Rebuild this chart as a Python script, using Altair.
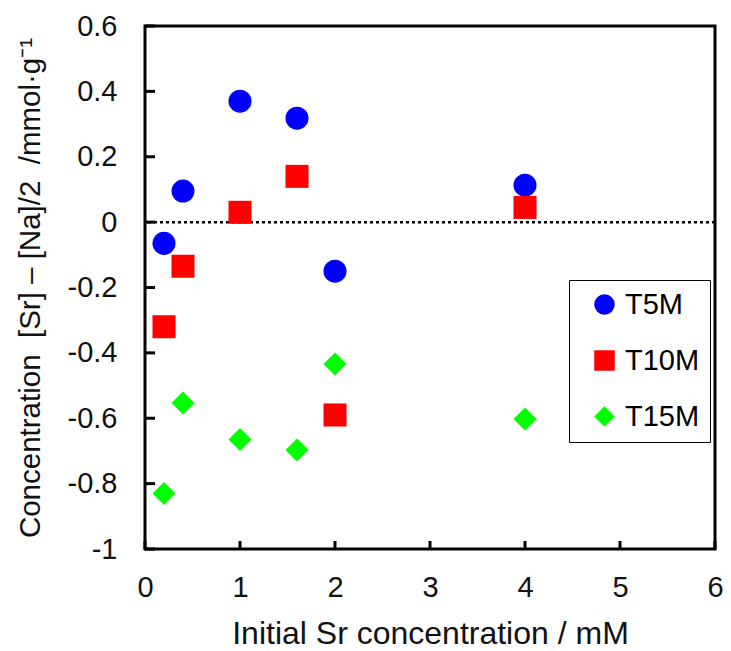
import altair as alt
import pandas as pd

x_vals = [0.2, 0.4, 1.0, 1.6, 2.0, 4.0]
t5m = [-0.065, 0.095, 0.37, 0.318, -0.15, 0.113]
t10m = [-0.32, -0.135, 0.03, 0.14, -0.59, 0.045]
t15m = [-0.83, -0.553, -0.665, -0.697, -0.434, -0.602]
series = ["T5M", "T10M", "T15M"]
colors = ["#0000FF", "#FF0000", "#00FF00"]
shapes = ["circle", "square", "diamond"]
y_ticks = [-1.0, -0.8, -0.6, -0.4, -0.2, 0.0, 0.2, 0.4, 0.6]
x_ticks = [0, 1, 2, 3, 4, 5, 6]

rows = []
for name, vals in zip(series, [t5m, t10m, t15m]):
    for xv, yv in zip(x_vals, vals):
        rows.append({"x": xv, "y": yv, "series": name})
df = pd.DataFrame(rows)

FONT = "Liberation Sans"
W, H = 570, 523
NB = "\u00a0"

xscale = alt.Scale(domain=[0, 6], nice=False, zero=False)
yscale = alt.Scale(domain=[-1, 0.6], nice=False, zero=False)

points = alt.Chart(df).mark_point(filled=True, opacity=1, size=530).encode(
    x=alt.X("x:Q", scale=xscale,
            axis=alt.Axis(title="Initial Sr concentration / mM", values=x_ticks,
                          ticks=False, domain=False, grid=False, labelPadding=24,
                          labelFlush=False,
                          titlePadding=16, titleFontSize=32, format="d")),
    y=alt.Y("y:Q", scale=yscale,
            axis=alt.Axis(title=f"Concentration{NB}{NB}[Sr]{NB}–{NB}[Na]/2{NB}{NB}/mmol·g⁻¹",
                          values=y_ticks, ticks=False, domain=False, grid=False,
                          labelFlush=False,
                          labelPadding=28, titlePadding=22, titleFontSize=29.5,
                          labelExpr="datum.value < -0.001 ? '-' + format(-datum.value, '~g') : format(abs(datum.value), '~g')")),
    color=alt.Color("series:N", scale=alt.Scale(domain=series, range=colors),
                    legend=alt.Legend(title=None, orient="none", legendX=424, legendY=254,
                                      strokeColor="black", fillColor="white", padding=10,
                                      symbolOffset=11, symbolSize=420, labelOffset=6,
                                      rowPadding=26, labelFontSize=29, labelFont=FONT,
                                      labelColor="black", symbolStrokeWidth=0,
                                      labelExpr="datum.label + '  '")),
    shape=alt.Shape("series:N", scale=alt.Scale(domain=series, range=shapes)),
)

ytick_df = pd.DataFrame({"t": y_ticks})
xtick_df = pd.DataFrame({"t": x_ticks})

yticks = alt.Chart(ytick_df).mark_rule(color="black", strokeWidth=3).encode(
    y=alt.Y("t:Q", scale=yscale), x=alt.value(0), x2=alt.value(10))
xticks = alt.Chart(xtick_df).mark_rule(color="black", strokeWidth=3).encode(
    x=alt.X("t:Q", scale=xscale), y=alt.value(H), y2=alt.value(H - 8))

zero = alt.Chart(pd.DataFrame({"z": [0]})).mark_rule(
    color="black", strokeWidth=2.5, strokeDash=[3, 3]).encode(y=alt.Y("z:Q", scale=yscale))

chart = alt.layer(zero, yticks, xticks, points).properties(
    width=W, height=H,
    autosize=alt.AutoSizeParams(type="none"),
    padding={"left": 137, "top": 18, "right": 8, "bottom": 100},
).configure_view(stroke="black", strokeWidth=3).configure_axis(
    labelFont=FONT, titleFont=FONT, labelFontSize=29,
    labelColor="#111111", titleColor="#111111", titleFontWeight="normal"
)

chart.save("out.html", embed_options={"renderer": "svg", "actions": False})
